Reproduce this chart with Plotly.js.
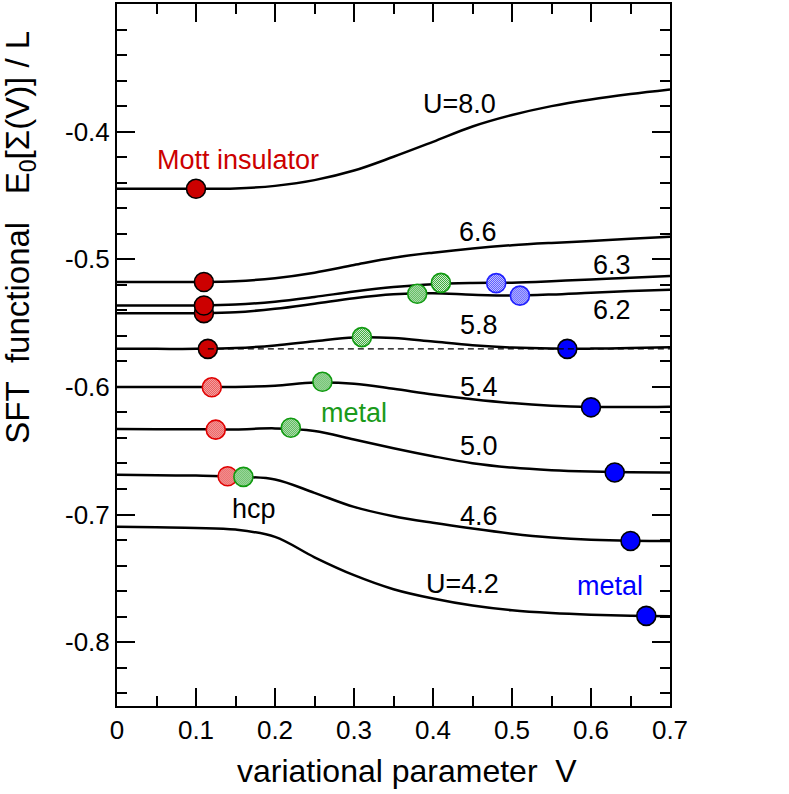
<!DOCTYPE html>
<html>
<head>
<meta charset="utf-8">
<script src="https://cdn.plot.ly/plotly-3.0.1.min.js"></script>
<style>html,body{margin:0;padding:0;background:#fff;}#chart{width:789px;height:794px;}</style>
</head>
<body>
<div id="chart"></div>
<script>
// ---- data ----
const xGrid = [0, 0.05, 0.10, 0.15, 0.20, 0.25, 0.30, 0.35, 0.40, 0.45, 0.50, 0.55, 0.60, 0.65, 0.70];

const curveU80 = [-0.4448, -0.4448, -0.4448, -0.4445, -0.4425, -0.4380, -0.4305, -0.4197, -0.4080, -0.3960, -0.3870, -0.3800, -0.3748, -0.3706, -0.3670];
const curveU66 = [-0.5178, -0.5178, -0.5178, -0.5172, -0.5148, -0.5105, -0.5045, -0.4988, -0.4948, -0.4915, -0.4890, -0.4872, -0.4857, -0.4840, -0.4824];
const curveU63 = [-0.5362, -0.5362, -0.5362, -0.5355, -0.5332, -0.5295, -0.5253, -0.5218, -0.5195, -0.5186, -0.5183, -0.5172, -0.5158, -0.5144, -0.5131];
const curveU62 = [-0.5422, -0.5422, -0.5422, -0.5415, -0.5388, -0.5348, -0.5305, -0.5275, -0.5267, -0.5278, -0.5284, -0.5276, -0.5262, -0.5249, -0.5238];
const curveU58 = [-0.5702, -0.5702, -0.5702, -0.5696, -0.5675, -0.5642, -0.5613, -0.5617, -0.5645, -0.5673, -0.5692, -0.5700, -0.5700, -0.5696, -0.5690];
const curveU54 = [-0.6000, -0.6000, -0.6000, -0.6000, -0.5990, -0.5966, -0.5975, -0.6015, -0.6060, -0.6097, -0.6127, -0.6147, -0.6157, -0.6158, -0.6155];
const curveU50 = [-0.6330, -0.6331, -0.6332, -0.6333, -0.6325, -0.6345, -0.6412, -0.6480, -0.6543, -0.6598, -0.6632, -0.6652, -0.6663, -0.6669, -0.6670];
const curveU46 = [-0.6689, -0.6692, -0.6695, -0.6703, -0.6725, -0.6830, -0.6940, -0.7013, -0.7065, -0.7110, -0.7150, -0.7180, -0.7198, -0.7206, -0.7207];
const curveU42 = [-0.7095, -0.7100, -0.7105, -0.7118, -0.7175, -0.7335, -0.7475, -0.7585, -0.7658, -0.7713, -0.7750, -0.7772, -0.7785, -0.7792, -0.7797];

const curves = [curveU80, curveU66, curveU63, curveU62, curveU58, curveU54, curveU50, curveU46, curveU42];

// Mott insulator points (solid red), upper curve last so it sits on top
const mottSolidX = [0.10, 0.11, 0.11, 0.11, 0.115];
const mottSolidY = [-0.4448, -0.5178, -0.5422, -0.5362, -0.5702];
// hatched red (hcp side)
const mottHatchX = [0.12, 0.125, 0.14];
const mottHatchY = [-0.6003, -0.6335, -0.6700];
// hatched green (metastable metal)
const greenX = [0.41, 0.38, 0.31, 0.26, 0.22, 0.16];
const greenY = [-0.5185, -0.5270, -0.5610, -0.5960, -0.6320, -0.6705];
// hatched blue
const blueHatchX = [0.48, 0.51];
const blueHatchY = [-0.5187, -0.5285];
// solid blue (metal)
const metalX = [0.57, 0.60, 0.63, 0.65, 0.67];
const metalY = [-0.5702, -0.6160, -0.6670, -0.7207, -0.7794];

// critical line (dashed)
const ucLineX = [0.115, 0.70];
const ucLineY = [-0.5702, -0.5702];

// curve labels
const labelText = ['U=8.0', '6.6', '6.3', '6.2', '5.8', '5.4', '5.0', '4.6', 'U=4.2'];
const labelX = [0.434, 0.457, 0.627, 0.627, 0.458, 0.458, 0.458, 0.458, 0.437];
const labelY = [-0.3785, -0.4785, -0.5047, -0.5400, -0.5518, -0.6003, -0.6460, -0.7010, -0.7543];

// tick labels
const xTickVals = [0, 0.1, 0.2, 0.3, 0.4, 0.5, 0.6, 0.7];
const xTickText = ['0', '0.1', '0.2', '0.3', '0.4', '0.5', '0.6', '0.7'];
const yTickVals = [-0.4, -0.5, -0.6, -0.7, -0.8];
const yTickText = ['-0.4', '-0.5', '-0.6', '-0.7', '-0.8'];

// ---- styling ----
const FONT = 'Liberation Sans, Arial, Helvetica, sans-serif';
const RED = '#cc0000', GREEN = '#1a9a1a', BLUE = '#0000ff';

const traces = [];
curves.forEach(function (ys) {
  traces.push({x: xGrid, y: ys, mode: 'lines', line: {color: 'black', width: 2.5, shape: 'spline', smoothing: 1}, hoverinfo: 'skip'});
});
function dots(xs, ys, fill, edge) {
  return {x: xs, y: ys, mode: 'markers', cliponaxis: false,
          marker: {size: 19, color: fill, line: {color: edge, width: 1.6}}, hoverinfo: 'skip'};
}
traces.push(dots(mottSolidX, mottSolidY, RED, 'black'));          // 9
traces.push(dots(mottHatchX, mottHatchY, '#f08080', '#e00000'));  // 10
traces.push(dots(greenX, greenY, '#6cc06c', '#109a10'));          // 11
traces.push(dots(blueHatchX, blueHatchY, '#8080ff', '#2020ff'));  // 12
traces.push(dots(metalX, metalY, BLUE, 'black'));                 // 13
traces.push({x: ucLineX, y: ucLineY, mode: 'lines', line: {color: 'black', width: 1.3, dash: '6px,4px'}, hoverinfo: 'skip'});

const annotations = [];
labelText.forEach(function (t, i) {
  annotations.push({x: labelX[i], y: labelY[i], xref: 'x', yref: 'y', text: t, showarrow: false,
                    font: {family: FONT, size: 27, color: 'black'}});
});
annotations.push({x: 0.1526, y: -0.4222, xref: 'x', yref: 'y', text: 'Mott insulator', showarrow: false, font: {family: FONT, size: 27, color: RED}});
annotations.push({x: 0.2996, y: -0.6207, xref: 'x', yref: 'y', text: 'metal', showarrow: false, font: {family: FONT, size: 27, color: GREEN}});
annotations.push({x: 0.624, y: -0.7560, xref: 'x', yref: 'y', text: 'metal', showarrow: false, font: {family: FONT, size: 27, color: BLUE}});
annotations.push({x: 0.1737, y: -0.6958, xref: 'x', yref: 'y', text: 'hcp', showarrow: false, font: {family: FONT, size: 27, color: 'black'}});
// arrow marking U_c
annotations.push({x: 0.7038, y: -0.5702, xref: 'x', yref: 'y', text: '', showarrow: true, ax: 112, ay: 0,
                  arrowhead: 3, arrowsize: 1.7, arrowwidth: 2.5, arrowcolor: 'black', standoff: 0});
annotations.push({x: 0.782, y: -0.5440, xref: 'x', yref: 'y', text: 'U<sub>c</sub>', showarrow: false,
                  font: {family: FONT, size: 32, color: 'black'}});
// y-axis title
annotations.push({x: -0.176, y: 0.668, xref: 'paper', yref: 'paper', xanchor: 'center', yanchor: 'middle',
                  text: 'SFT&nbsp;&nbsp;functional&nbsp;&nbsp;&nbsp;E<sub>0</sub>[Σ(V)] / L', textangle: -90, showarrow: false,
                  font: {family: FONT, size: 33, color: 'black'}});

const axisCommon = {
  showline: true, linewidth: 2, linecolor: 'black', mirror: 'ticks',
  ticks: 'inside', ticklen: 18, tickwidth: 2, tickcolor: 'black',
  showgrid: false, zeroline: false, tickmode: 'array',
  tickfont: {family: FONT, size: 26, color: 'black'}
};

const layout = {
  width: 789, height: 794,
  margin: {l: 117, r: 119, t: 4, b: 88},
  paper_bgcolor: 'white', plot_bgcolor: 'white',
  showlegend: false,
  font: {family: FONT, color: 'black'},
  xaxis: Object.assign({}, axisCommon, {
    range: [0, 0.7], tickvals: xTickVals, ticktext: xTickText,
    minor: {tickmode: 'linear', tick0: 0, dtick: 0.05, ticks: 'inside', ticklen: 10, tickwidth: 2, tickcolor: 'black', showgrid: false},
    title: {text: '&nbsp;&nbsp;&nbsp;variational parameter&nbsp;&nbsp;V', font: {family: FONT, size: 32, color: 'black'}, standoff: 15}
  }),
  yaxis: Object.assign({}, axisCommon, {
    range: [-0.85, -0.30], tickvals: yTickVals, ticktext: yTickText,
    minor: {tickmode: 'linear', tick0: 0, dtick: 0.02, ticks: 'inside', ticklen: 10, tickwidth: 2, tickcolor: 'black', showgrid: false}
  }),
  annotations: annotations
};

Plotly.newPlot('chart', traces, layout, {staticPlot: true, displayModeBar: false}).then(function (gd) {
  // fine checkered fill for the "hatched" circles, as in the reference
  const ns = 'http://www.w3.org/2000/svg';
  const svg = gd.querySelector('svg.main-svg');
  let defs = svg.querySelector('defs');
  if (!defs) { defs = document.createElementNS(ns, 'defs'); svg.insertBefore(defs, svg.firstChild); }
  function addPattern(id, color) {
    const p = document.createElementNS(ns, 'pattern');
    p.setAttribute('id', id); p.setAttribute('width', '2'); p.setAttribute('height', '2');
    p.setAttribute('patternUnits', 'userSpaceOnUse');
    [[0, 0, 2, 2, '#ffffff'], [0, 0, 1, 1, color], [1, 1, 1, 1, color]].forEach(function (r) {
      const rect = document.createElementNS(ns, 'rect');
      rect.setAttribute('x', r[0]); rect.setAttribute('y', r[1]);
      rect.setAttribute('width', r[2]); rect.setAttribute('height', r[3]);
      rect.setAttribute('fill', r[4]);
      p.appendChild(rect);
    });
    defs.appendChild(p);
  }
  addPattern('hatchRed', '#e00000');
  addPattern('hatchGreen', '#109a10');
  addPattern('hatchBlue', '#2020ff');
  const layers = gd.querySelectorAll('.scatterlayer .trace');
  const map = {10: 'hatchRed', 11: 'hatchGreen', 12: 'hatchBlue'};
  Object.keys(map).forEach(function (k) {
    const tr = layers[+k];
    if (!tr) return;
    tr.querySelectorAll('path.point').forEach(function (pt) { pt.style.fill = 'url(#' + map[k] + ')'; });
  });
});
</script>
</body>
</html>
